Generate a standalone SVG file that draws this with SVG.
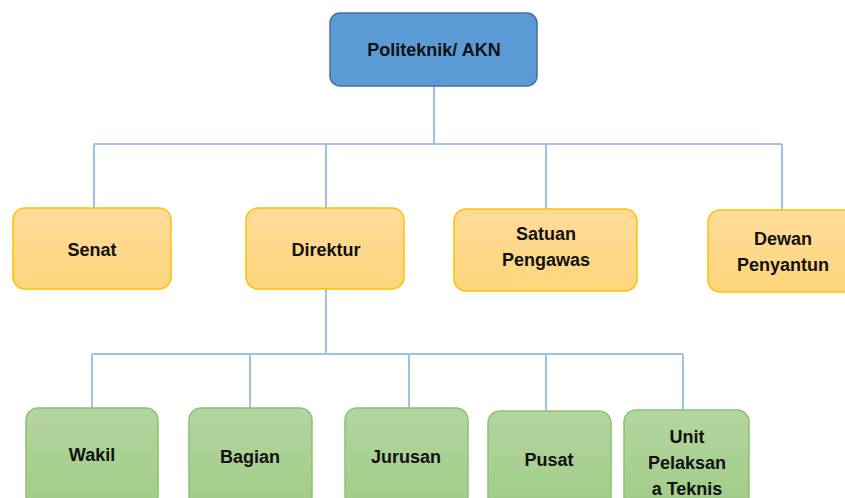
<svg xmlns="http://www.w3.org/2000/svg" width="845" height="498" viewBox="0 0 845 498">
<style>
.t{font-family:"Liberation Sans","DejaVu Sans",sans-serif;font-weight:bold;font-size:18px;fill:#111111;text-anchor:middle}
.blue{fill:#5b9bd5;stroke:#41719c;stroke-width:1.5}
.org{fill:url(#go);stroke:#ffc000;stroke-width:1.5}
.grn{fill:url(#gg);stroke:#8cc16c;stroke-width:1.5}
.c{fill:none;stroke:#9dc3e6;stroke-width:2}
</style>
<defs>
<linearGradient id="go" x1="0" y1="0" x2="0" y2="1"><stop offset="0" stop-color="#fedb9a"/><stop offset="1" stop-color="#ffd67c"/></linearGradient>
<linearGradient id="gg" x1="0" y1="0" x2="0" y2="1"><stop offset="0" stop-color="#b3d5a0"/><stop offset="1" stop-color="#a0cc86"/></linearGradient>
</defs>
<g id="connectors">
<path class="c" d="M434 86V144M94 144H782M94 144V208M326 144V208M546 144V209M782 144V210"/>
<path class="c" d="M326 289V354M92 354H683M92 354V408M250 354V408M409 354V408M546 354V411M683 354V410"/>
</g>
<g id="politeknik"><rect class="blue" x="330" y="13" width="207" height="73" rx="10"/><text class="t" x="434" y="56">Politeknik/ AKN</text></g>
<g id="senat"><rect class="org" x="13" y="208" width="158" height="81" rx="12"/><text class="t" x="92" y="256">Senat</text></g>
<g id="direktur"><rect class="org" x="246" y="208" width="158" height="81" rx="12"/><text class="t" x="326" y="256">Direktur</text></g>
<g id="satuan"><rect class="org" x="454" y="209" width="183" height="82" rx="12"/><text class="t" x="546" y="240">Satuan</text><text class="t" x="546" y="266">Pengawas</text></g>
<g id="dewan"><rect class="org" x="708" y="210" width="150" height="82" rx="12"/><text class="t" x="783" y="245">Dewan</text><text class="t" x="783" y="271">Penyantun</text></g>
<g id="wakil"><rect class="grn" x="26" y="408" width="132" height="100" rx="12"/><text class="t" x="92" y="461">Wakil</text></g>
<g id="bagian"><rect class="grn" x="189" y="408" width="123" height="100" rx="12"/><text class="t" x="250" y="463">Bagian</text></g>
<g id="jurusan"><rect class="grn" x="345" y="408" width="123" height="100" rx="12"/><text class="t" x="406" y="463">Jurusan</text></g>
<g id="pusat"><rect class="grn" x="488" y="411" width="123" height="100" rx="12"/><text class="t" x="549" y="466">Pusat</text></g>
<g id="unit"><rect class="grn" x="624" y="410" width="125" height="100" rx="12"/><text class="t" x="687" y="443">Unit</text><text class="t" x="687" y="469">Pelaksan</text><text class="t" x="687" y="495">a Teknis</text></g>
</svg>
